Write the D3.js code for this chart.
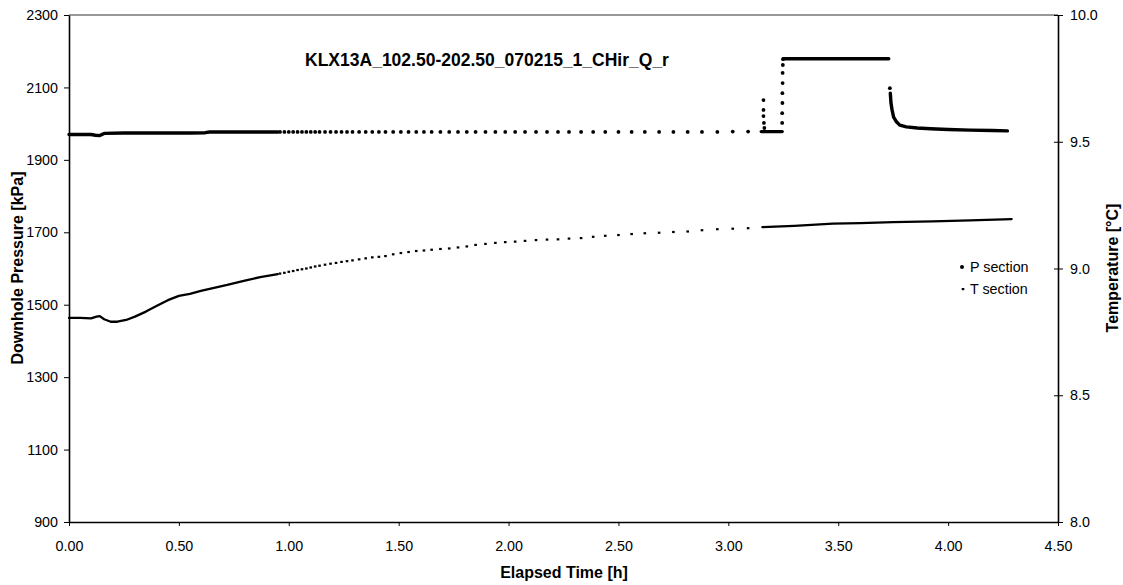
<!DOCTYPE html>
<html>
<head>
<meta charset="utf-8">
<script src="https://cdn.jsdelivr.net/npm/d3@7"></script>
<style>
  body { margin: 0; background: #fff; }
  svg text { font-family: Arial, "Liberation Sans", sans-serif; fill: #000; }
</style>
</head>
<body>
<svg id="chart" width="1123" height="585"></svg>
<script>
// ---- data ----
const xTicks = [0, 0.5, 1, 1.5, 2, 2.5, 3, 3.5, 4, 4.5];
const pTicks = [900, 1100, 1300, 1500, 1700, 1900, 2100, 2300];
const tTicks = [8.0, 8.5, 9.0, 9.5, 10.0];

// P section [kPa], dense logging at start
const pStartT = [0.00, 0.05, 0.10, 0.12, 0.14, 0.16, 0.25, 0.40, 0.55, 0.62, 0.64, 0.80, 0.95];
const pStartV = [1970, 1970, 1970, 1968, 1967, 1973, 1974, 1974, 1974, 1975, 1977, 1977, 1977];

// sparser logging (same times for both sensors)
const sparseT = [0.96, 0.98, 1.00, 1.02, 1.04, 1.06, 1.08, 1.10, 1.12, 1.14, 1.165,
  1.19, 1.215, 1.24, 1.265, 1.29, 1.32, 1.35, 1.38, 1.41, 1.44, 1.475, 1.51, 1.545, 1.58,
  1.615, 1.65, 1.69, 1.73, 1.77, 1.81, 1.85, 1.895, 1.94, 1.985, 2.03, 2.075, 2.125, 2.175, 2.225,
  2.275, 2.33, 2.385, 2.44, 2.50, 2.56, 2.62, 2.685, 2.75, 2.815, 2.88, 2.95, 3.02, 3.09];
const pSparseV = [1977, 1977, 1977, 1977, 1977, 1977, 1977, 1977, 1977, 1977, 1977,
  1977, 1977, 1977, 1977, 1977, 1977, 1977, 1977, 1977, 1977, 1977, 1977, 1977, 1977,
  1977, 1977, 1977, 1977, 1977, 1977, 1977, 1977, 1977, 1977, 1977, 1977, 1977, 1977, 1977,
  1977, 1977, 1977, 1977, 1977, 1977, 1977, 1977, 1977, 1977, 1977, 1977, 1978, 1978];
const tSparseV = [8.980, 8.983, 8.987, 8.990, 8.994, 8.997, 9.000, 9.004, 9.008, 9.011, 9.015,
  9.019, 9.022, 9.026, 9.029, 9.032, 9.036, 9.040, 9.044, 9.046, 9.049, 9.056, 9.061, 9.065, 9.069,
  9.071, 9.074, 9.077, 9.079, 9.083, 9.087, 9.093, 9.097, 9.101, 9.104, 9.106, 9.109, 9.112, 9.114, 9.115,
  9.118, 9.120, 9.125, 9.129, 9.132, 9.136, 9.139, 9.141, 9.144, 9.146, 9.151, 9.155, 9.157, 9.159];

// P section around the flow period
const pBaseT = [3.15, 3.20, 3.245];
const pBaseV = [1978, 1978, 1978];
const pJumpT = [3.160, 3.160, 3.160, 3.162, 3.164, 3.245, 3.245, 3.246, 3.246, 3.247, 3.247, 3.248, 3.249, 3.735];
const pJumpV = [2065, 2038, 2021, 2002, 1988, 2002, 2029, 2057, 2084, 2112, 2140, 2162, 2178, 2098];
const pFlowT = [3.25, 3.40, 3.55, 3.73];
const pFlowV = [2179, 2179, 2179, 2179];
const pRecT = [3.737, 3.740, 3.745, 3.752, 3.765, 3.78, 3.81, 3.86, 3.92, 4.00, 4.10, 4.20, 4.27];
const pRecV = [2084, 2057, 2038, 2018, 2005, 1996, 1991, 1988, 1986, 1984, 1982, 1981, 1980];

// T section [°C]
const tStartT = [0.00, 0.05, 0.10, 0.125, 0.14, 0.16, 0.19, 0.22, 0.26, 0.30, 0.35, 0.40, 0.45, 0.50,
  0.55, 0.60, 0.65, 0.72, 0.80, 0.87, 0.95];
const tStartV = [8.805, 8.805, 8.803, 8.810, 8.812, 8.800, 8.790, 8.790, 8.797, 8.810, 8.830, 8.853, 8.875, 8.892,
  8.900, 8.912, 8.922, 8.935, 8.952, 8.966, 8.978];
const tEndT = [3.155, 3.30, 3.476, 3.60, 3.75, 3.93, 4.10, 4.289];
const tEndV = [9.163, 9.168, 9.177, 9.179, 9.183, 9.186, 9.190, 9.195];

const zip = (a, b) => a.map((d, i) => [d, b[i]]);

// ---- layout ----
const svg = d3.select("#chart");
const x = d3.scaleLinear().domain([0, 4.5]).range([69, 1058]);
const yP = d3.scaleLinear().domain([900, 2300]).range([522, 15]);
const yT = d3.scaleLinear().domain([8, 10]).range([522, 15]);

// frame top
svg.append("line").attr("x1", 69).attr("x2", 1058).attr("y1", 15).attr("y2", 15)
  .attr("stroke", "#333").attr("stroke-width", 1);

const xAxis = svg.append("g").attr("transform", "translate(0,522)")
  .call(d3.axisBottom(x).tickValues(xTicks).tickFormat(d3.format(".2f"))
    .tickSize(4).tickSizeOuter(0).tickPadding(15));
const leftAxis = svg.append("g").attr("transform", "translate(69,0)")
  .call(d3.axisLeft(yP).tickValues(pTicks).tickFormat(d3.format("d"))
    .tickSize(5).tickSizeOuter(0).tickPadding(6));
const rightAxis = svg.append("g").attr("transform", "translate(1058,0)")
  .call(d3.axisRight(yT).tickValues(tTicks).tickFormat(d3.format(".1f"))
    .tickSize(5).tickSizeOuter(0).tickPadding(7));
rightAxis.selectAll(".tick line").attr("x1", -4);

[xAxis, leftAxis, rightAxis].forEach(g => {
  g.selectAll(".domain").attr("stroke", "#000").attr("stroke-width", 1.6);
  g.selectAll(".tick line").attr("stroke", "#000").attr("stroke-width", 1);
  g.selectAll(".tick text").attr("font-size", 14.3).attr("font-family", "Arial, 'Liberation Sans', sans-serif");
});

// ---- P section ----
const lineP = d3.line().x(d => x(d[0])).y(d => yP(d[1]));
const lineT = d3.line().x(d => x(d[0])).y(d => yT(d[1]));

[zip(pStartT, pStartV), zip(pBaseT, pBaseV), zip(pFlowT, pFlowV), zip(pRecT, pRecV)].forEach(seg => {
  svg.append("path").datum(seg).attr("d", lineP)
    .attr("fill", "none").attr("stroke", "#000").attr("stroke-width", 3.4)
    .attr("stroke-linecap", "round").attr("stroke-linejoin", "round");
});
svg.append("g").selectAll("circle")
  .data(zip(sparseT, pSparseV).concat(zip(pJumpT, pJumpV)))
  .join("circle")
  .attr("cx", d => x(d[0])).attr("cy", d => yP(d[1])).attr("r", 1.9).attr("fill", "#000");

// ---- T section ----
[zip(tStartT, tStartV), zip(tEndT, tEndV)].forEach(seg => {
  svg.append("path").datum(seg).attr("d", lineT)
    .attr("fill", "none").attr("stroke", "#000").attr("stroke-width", 2.3)
    .attr("stroke-linecap", "round").attr("stroke-linejoin", "round");
});
svg.append("g").selectAll("rect")
  .data(zip(sparseT, tSparseV))
  .join("rect")
  .attr("x", d => x(d[0]) - 1.3).attr("y", d => yT(d[1]) - 1.1)
  .attr("width", 2.6).attr("height", 2.2).attr("fill", "#000");

// ---- texts ----
svg.append("text").attr("x", 487).attr("y", 66).attr("text-anchor", "middle")
  .attr("font-size", 17.5).attr("font-weight", "bold")
  .text("KLX13A_102.50-202.50_070215_1_CHir_Q_r");
svg.append("text").attr("x", 564).attr("y", 578).attr("text-anchor", "middle")
  .attr("font-size", 16).attr("font-weight", "bold").text("Elapsed Time [h]");
svg.append("text").attr("transform", "translate(23,268) rotate(-90)").attr("text-anchor", "middle")
  .attr("font-size", 16).attr("font-weight", "bold").text("Downhole Pressure [kPa]");
svg.append("text").attr("transform", "translate(1118,268) rotate(-90)").attr("text-anchor", "middle")
  .attr("font-size", 16).attr("font-weight", "bold").text("Temperature [°C]");

// ---- legend ----
const legend = svg.append("g");
legend.append("circle").attr("cx", 962).attr("cy", 267).attr("r", 2).attr("fill", "#000");
legend.append("text").attr("x", 970).attr("y", 272).attr("font-size", 14.3).text("P section");
legend.append("rect").attr("x", 961.7).attr("y", 288).attr("width", 2.6).attr("height", 2.2).attr("fill", "#000");
legend.append("text").attr("x", 970).attr("y", 294).attr("font-size", 14.3).text("T section");
</script>
</body>
</html>
